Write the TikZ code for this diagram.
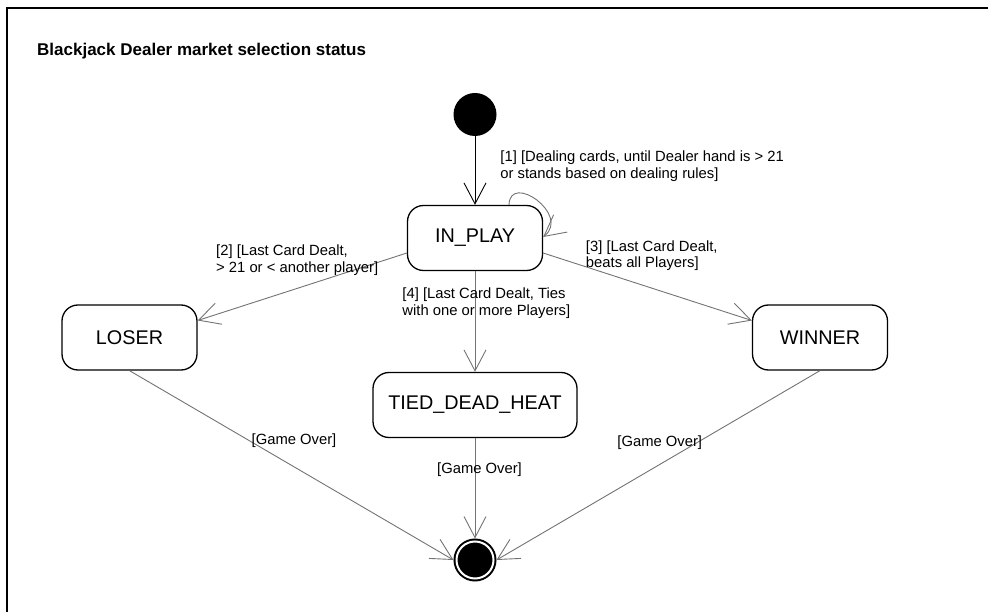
\documentclass[tikz,border=0pt]{standalone}
\usepackage{fontspec}
\setmainfont{Liberation Sans}
\usepackage{tikz}
\usetikzlibrary{automata, positioning, arrows.meta}
\tikzset{->, >={Straight Barb[length=21pt,width=22pt]}, x=1pt, y=-1pt,
every state/.style={rectangle, rounded corners=16pt, draw=black, line width=1.3pt, minimum width=135pt, minimum height=65pt, inner sep=0pt, font=\fontsize{19.8}{22}\selectfont},
startdot/.style={circle, fill=black, minimum size=43pt, inner sep=0pt},
enddot/.style={circle, fill=black, draw=black, line width=2pt, double=white, double distance=2pt, minimum size=37pt, inner sep=0pt, outer sep=3pt},
trans/.style={draw=black!55, line width=0.9pt},
lbl/.style={font=\fontsize{14.8}{16.5}\selectfont, align=left, inner sep=0pt, text=black},
}

\begin{document}
\begin{tikzpicture}
            \useasboundingbox (0,0) rectangle (988,612);
            \draw[-, line width=1.5pt] (7,612) -- (7,8) -- (988,8);
            \node[anchor=base west, inner sep=0pt, font=\fontsize{17}{20}\selectfont\bfseries] (title) at (37,56) {Blackjack Dealer market selection status};

            \node[startdot] (start) at (475,114.5) {};
            \node[state, below of=start, node distance=123.5pt] (inplay) {IN\_PLAY};
            \node[state, left of=inplay, node distance=345.5pt, yshift=-99.5pt] (loser) {LOSER};
            \node[state, right of=inplay, node distance=345pt, yshift=-99.5pt] (winner) {WINNER};
            \node[state, below of=inplay, node distance=167pt, minimum width=204pt] (tied) {TIED\_DEAD\_HEAT};
            \node[enddot, below of=tied, node distance=155pt] (final) {};

            \path (start.south) edge[draw=black, line width=0.9pt] (inplay.north)
                ([yshift=-15pt]inplay.west) edge[trans] node[lbl, anchor=west, xshift=-86.5pt, yshift=26.5pt]{[2] [Last Card Dealt,\\> 21 or < another player]} ([yshift=17pt]loser.east)
                ([yshift=-15pt]inplay.east) edge[trans] node[lbl, anchor=west, xshift=-62pt, yshift=31pt]{[3] [Last Card Dealt,\\beats all Players]} ([yshift=17pt]winner.west)
                (inplay.south) edge[trans] node[lbl, anchor=west, xshift=-73pt, yshift=18.5pt]{[4] [Last Card Dealt, Ties\\with one or more Players]} (tied.north)
                (loser.south) edge[trans] node[lbl, xshift=2.5pt, yshift=25pt]{[Game Over]} (final.west)
                (tied.south) edge[trans] node[lbl, xshift=4.5pt, yshift=19pt]{[Game Over]} (final.north)
                (winner.south) edge[trans] node[lbl, xshift=1.5pt, yshift=23pt]{[Game Over]} (final.east)
                ;
            \draw[trans] ([xshift=34pt]inplay.north) .. controls +(1,-33) and +(28,-22) .. ([yshift=1pt]inplay.east)
                node[lbl, pos=0, anchor=west, xshift=-9pt, yshift=38.5pt]{[1] [Dealing cards, until Dealer hand is > 21\\or stands based on dealing rules]};
        \end{tikzpicture}
\end{document}
